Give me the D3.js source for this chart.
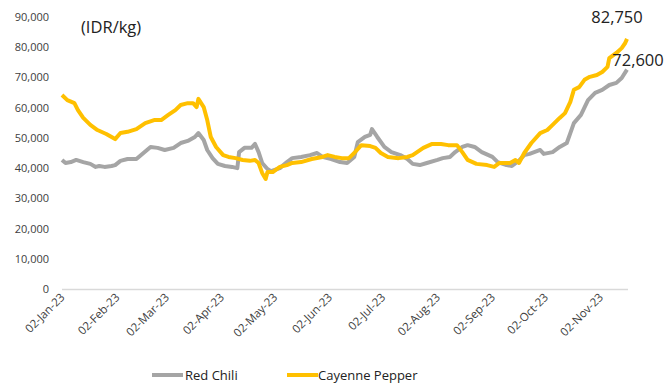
<!DOCTYPE html>
<html><head><meta charset="utf-8">
<script src="https://cdn.jsdelivr.net/npm/d3@7"></script>
<style>body{margin:0;background:#fff;} text{font-family:"Open Sans","Liberation Sans",sans-serif;}</style>
</head><body>
<svg id="c" width="665" height="385"></svg>
<script>
const redChiliDates = ["2023-01-02","2023-01-04","2023-01-07","2023-01-10","2023-01-14","2023-01-18","2023-01-21","2023-01-23","2023-01-26","2023-01-30","2023-02-01","2023-02-04","2023-02-08","2023-02-13","2023-02-17","2023-02-21","2023-02-25","2023-03-01","2023-03-06","2023-03-10","2023-03-14","2023-03-18","2023-03-20","2023-03-23","2023-03-25","2023-03-28","2023-03-31","2023-04-04","2023-04-08","2023-04-11","2023-04-12","2023-04-15","2023-04-19","2023-04-21","2023-04-23","2023-04-25","2023-04-28","2023-04-30","2023-05-05","2023-05-09","2023-05-12","2023-05-17","2023-05-22","2023-05-26","2023-05-29","2023-06-03","2023-06-08","2023-06-12","2023-06-16","2023-06-18","2023-06-22","2023-06-25","2023-06-26","2023-06-29","2023-07-03","2023-07-07","2023-07-12","2023-07-16","2023-07-19","2023-07-23","2023-07-27","2023-08-02","2023-08-05","2023-08-09","2023-08-12","2023-08-16","2023-08-19","2023-08-23","2023-08-27","2023-09-02","2023-09-05","2023-09-10","2023-09-13","2023-09-17","2023-09-20","2023-09-23","2023-09-29","2023-10-01","2023-10-06","2023-10-10","2023-10-14","2023-10-16","2023-10-18","2023-10-22","2023-10-26","2023-10-30","2023-11-03","2023-11-07","2023-11-11","2023-11-14","2023-11-17"];
const redChiliValues = [42700,41700,42000,42700,42000,41400,40400,40700,40400,40700,41000,42400,43000,43000,45000,47000,46700,46000,46700,48300,49000,50300,51600,49300,46000,43300,41400,40700,40400,40000,45300,46700,46700,48000,45300,41700,39700,39000,40000,42000,43300,43700,44300,45000,43700,43000,42000,41700,43700,48600,50300,51000,52900,50300,47000,45300,44300,43000,41400,41000,41700,42700,43300,43700,45300,47000,47600,47000,45300,43700,42000,41000,40700,42500,44300,44700,46000,44700,45300,47000,48300,51600,54900,57600,62500,64900,65900,67500,68200,69800,72600];

const cayenneDates = ["2023-01-02","2023-01-05","2023-01-09","2023-01-11","2023-01-14","2023-01-18","2023-01-22","2023-01-27","2023-02-01","2023-02-04","2023-02-08","2023-02-13","2023-02-18","2023-02-23","2023-02-27","2023-03-03","2023-03-07","2023-03-10","2023-03-14","2023-03-17","2023-03-19","2023-03-20","2023-03-23","2023-03-25","2023-03-27","2023-03-30","2023-04-03","2023-04-06","2023-04-10","2023-04-14","2023-04-18","2023-04-21","2023-04-23","2023-04-25","2023-04-27","2023-04-28","2023-05-01","2023-05-05","2023-05-09","2023-05-12","2023-05-17","2023-05-23","2023-05-29","2023-06-01","2023-06-05","2023-06-09","2023-06-13","2023-06-16","2023-06-20","2023-06-25","2023-06-28","2023-07-01","2023-07-05","2023-07-11","2023-07-16","2023-07-19","2023-07-25","2023-07-30","2023-08-04","2023-08-08","2023-08-13","2023-08-16","2023-08-19","2023-08-24","2023-08-30","2023-09-03","2023-09-06","2023-09-12","2023-09-15","2023-09-17","2023-09-20","2023-09-24","2023-09-29","2023-10-03","2023-10-06","2023-10-10","2023-10-13","2023-10-16","2023-10-18","2023-10-21","2023-10-24","2023-10-27","2023-10-31","2023-11-03","2023-11-06","2023-11-07","2023-11-11","2023-11-14","2023-11-16","2023-11-17"];
const cayenneValues = [64200,62500,61500,59200,56600,54300,52600,51300,49600,51600,52000,52900,54900,55900,55900,57600,59200,60900,61500,61500,60200,62900,60200,55900,50300,47000,44300,43700,43300,42700,42400,42700,41700,38400,36400,38700,38700,40400,41000,41700,42000,43000,43700,44300,43700,43300,43300,45000,47600,47300,46700,45000,43700,43300,43700,44300,46700,48000,48000,47600,47600,45300,42700,41400,41000,40400,41700,41700,42700,41700,45000,48300,51600,52600,54300,56600,58200,61900,65900,66800,69200,70200,70800,71800,73500,76400,78100,79700,81400,82750];

const yTicks = [0,10000,20000,30000,40000,50000,60000,70000,80000,90000];
const xTickDates = ["2023-01-02","2023-02-02","2023-03-02","2023-04-02","2023-05-02","2023-06-02","2023-07-02","2023-08-02","2023-09-02","2023-10-02","2023-11-02"];
const seriesNames = ["Red Chili","Cayenne Pepper"];
const seriesColors = ["#A5A5A5","#FFC000"];
const unitLabel = "(IDR/kg)";

const parse = d3.timeParse("%Y-%m-%d");
const fmtTick = d3.timeFormat("%d-%b-%y");
const fmtNum = d3.format(",");

const svg = d3.select("#c");
const x = d3.scaleTime().domain([parse("2023-01-02"), parse("2023-11-17")]).range([62, 627]);
const y = d3.scaleLinear().domain([0, 90000]).range([289, 17]);

// y axis labels
const yAxis = d3.axisLeft(y).tickValues(yTicks).tickFormat(fmtNum).tickSize(0).tickPadding(0);
const gy = svg.append("g").attr("transform","translate(49,0)").call(yAxis);
gy.select(".domain").remove();
gy.selectAll("text").attr("fill","#404040").style("font-size","11px").style("font-family","'Open Sans','Liberation Sans',sans-serif");

// x axis
const xAxis = d3.axisBottom(x).tickValues(xTickDates.map(parse)).tickFormat(fmtTick).tickSize(0).tickPadding(0);
const gx = svg.append("g").attr("transform","translate(0,289)").call(xAxis);
gx.select(".domain").attr("d","M62,0.5H628").attr("stroke","#D9D9D9").attr("stroke-width",1.5);
gx.selectAll("text")
  .attr("fill","#404040").style("font-size","11.5px").style("font-family","'Open Sans','Liberation Sans',sans-serif")
  .attr("text-anchor","end").attr("dy","0").attr("y",0)
  .attr("transform","translate(3,9) rotate(-45)");

// lines
const line = d3.line().x(d => x(d[0])).y(d => y(d[1])).curve(d3.curveLinear);
const redData = redChiliDates.map((d,i) => [parse(d), redChiliValues[i]]);
const cayData = cayenneDates.map((d,i) => [parse(d), cayenneValues[i]]);
svg.append("path").datum(redData).attr("d", line).attr("fill","none").attr("stroke",seriesColors[0]).attr("stroke-width",4).attr("stroke-linejoin","round");
svg.append("path").datum(cayData).attr("d", line).attr("fill","none").attr("stroke",seriesColors[1]).attr("stroke-width",4).attr("stroke-linejoin","round");

// data labels for last values
const lastCay = cayData[cayData.length-1], lastRed = redData[redData.length-1];
svg.append("text").attr("x", x(lastCay[0])-10).attr("y", 23).attr("text-anchor","middle")
  .style("font-size","16.5px").attr("fill","#222").text(fmtNum(lastCay[1]));
svg.append("text").attr("x", x(lastRed[0])+11).attr("y", 66).attr("text-anchor","middle")
  .style("font-size","16.5px").attr("fill","#222").text(fmtNum(lastRed[1]));

// unit label
svg.append("text").attr("x",81).attr("y",33).style("font-size","16.5px").attr("fill","#222").text(unitLabel);

// legend
const legend = [{x:152, tx:185},{x:287, tx:318}];
seriesNames.forEach((n,i) => {
  svg.append("line").attr("x1",legend[i].x).attr("x2",legend[i].x+31).attr("y1",375).attr("y2",375)
    .attr("stroke",seriesColors[i]).attr("stroke-width",4);
  svg.append("text").attr("x",legend[i].tx).attr("y",380).style("font-size","13px").attr("fill","#222").text(n);
});
</script>
</body></html>
